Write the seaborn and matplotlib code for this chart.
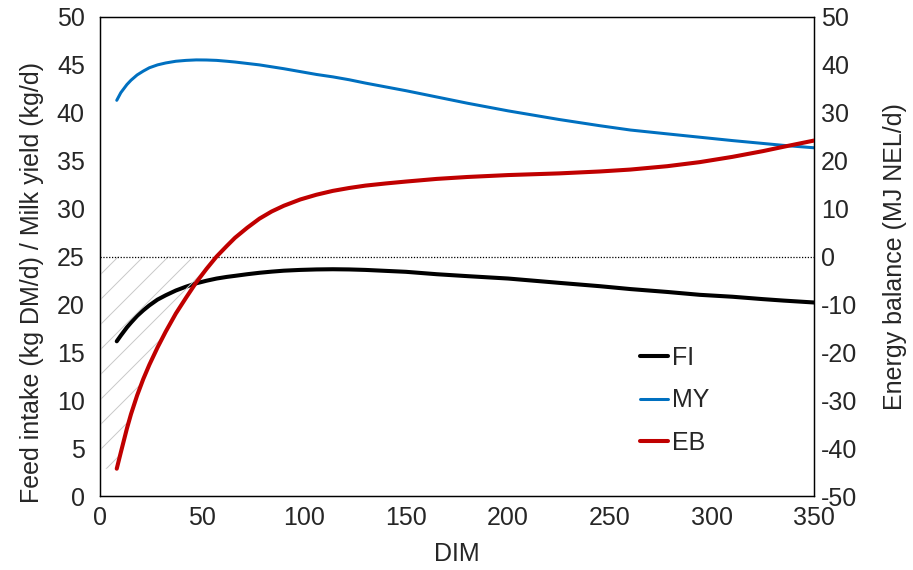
import matplotlib
matplotlib.use("Agg")
import matplotlib.pyplot as plt
import numpy as np
import pandas as pd
import seaborn as sns

# values
dim = [8, 10, 13, 15, 18, 21, 24, 28, 32, 37, 42, 47, 52, 57, 62, 66, 72, 78,
       84, 90, 98, 106, 114, 122, 130, 140, 150, 165, 180, 200, 225, 245, 260,
       278, 294, 310, 325, 335, 350]
fi = [16.15, 16.75, 17.6, 18.1, 18.8, 19.38, 19.9, 20.5, 20.95, 21.45, 21.85,
      22.2, 22.47, 22.7, 22.87, 22.98, 23.15, 23.3, 23.42, 23.52, 23.6, 23.65,
      23.67, 23.65, 23.6, 23.5, 23.4, 23.15, 22.95, 22.7, 22.25, 21.9, 21.6,
      21.3, 21.0, 20.8, 20.55, 20.4, 20.2]
my = [41.3, 42.1, 42.95, 43.4, 43.95, 44.35, 44.7, 45.0, 45.2, 45.38, 45.47,
      45.52, 45.51, 45.47, 45.38, 45.3, 45.15, 45.0, 44.8, 44.6, 44.3, 44.0,
      43.75, 43.45, 43.1, 42.7, 42.3, 41.65, 41.0, 40.2, 39.3, 38.65, 38.2,
      37.8, 37.45, 37.1, 36.8, 36.6, 36.35]
eb = [-44.3, -40.9, -35.9, -32.9, -29.0, -25.6, -22.6, -19.0, -15.7, -11.9,
      -8.6, -5.4, -2.6, 0.0, 2.2, 3.9, 6.0, 7.9, 9.4, 10.6, 11.9, 12.9, 13.7,
      14.3, 14.8, 15.25, 15.65, 16.2, 16.6, 17.0, 17.35, 17.75, 18.15, 18.85,
      19.7, 20.8, 22.0, 22.9, 24.2]

left_ticks = [0, 5, 10, 15, 20, 25, 30, 35, 40, 45, 50]
right_ticks = [-50, -40, -30, -20, -10, 0, 10, 20, 30, 40, 50]
x_ticks = [0, 50, 100, 150, 200, 250, 300, 350]

df = pd.DataFrame({"DIM": dim, "FI": fi, "MY": my, "EB": eb})

sns.set_style("white")
plt.rcParams["font.family"] = ["Liberation Sans", "DejaVu Sans"]
plt.rcParams["axes.unicode_minus"] = False
plt.rcParams["hatch.linewidth"] = 0.45

fs = 12
fig, ax = plt.subplots(figsize=(913 / 150, 570 / 150), dpi=150)
fig.subplots_adjust(left=0.110, right=0.8915, top=0.9702, bottom=0.1298)
ax2 = ax.twinx()

# negative energy balance area (hatched)
neg = df[df["EB"] <= 0]
xs = np.concatenate([[0], neg["DIM"].values])
ys = np.concatenate([[neg["EB"].values[0]], neg["EB"].values])
ax2.fill_between(xs, ys, 0, facecolor="none", edgecolor="#c8c8c8",
                 hatch="//", linewidth=0, zorder=1)
ax2.axhline(0, color="black", lw=0.6, linestyle=(0, (1, 1.3)), zorder=2)

sns.lineplot(data=df, x="DIM", y="FI", ax=ax, color="black", lw=1.95,
             label="FI", legend=False)
sns.lineplot(data=df, x="DIM", y="MY", ax=ax, color="#0070C0", lw=1.45,
             label="MY", legend=False)
sns.lineplot(data=df, x="DIM", y="EB", ax=ax2, color="#C00000", lw=1.95,
             label="EB", legend=False, zorder=3)
for l in ax.get_lines() + ax2.get_lines():
    l.set_solid_capstyle("round")
    l.set_solid_joinstyle("round")

ax.set_xlim(0, 350)
ax.set_ylim(0, 50)
ax2.set_ylim(-50, 50)
ax.set_xticks(x_ticks)
ax.set_yticks(left_ticks)
ax2.set_yticks(right_ticks)

ax.tick_params(axis="y", length=0, pad=7.5, labelsize=fs)
ax.tick_params(axis="x", length=0, pad=5.0, labelsize=fs)
ax2.tick_params(axis="y", length=0, pad=3.5, labelsize=fs)

ax.set_xlabel("DIM", fontsize=fs)
ax.set_ylabel("Feed intake (kg DM/d) / Milk yield (kg/d)", fontsize=fs)
ax2.set_ylabel("Energy balance (MJ NEL/d)", fontsize=fs)
ax.xaxis.set_label_coords(0.5, -0.095)
ax.yaxis.set_label_coords(-0.079, 0.445)
ax2.yaxis.set_label_coords(1.097, 0.5)

for a in (ax, ax2):
    for s in a.spines.values():
        s.set_color("black")
        s.set_linewidth(0.6)

handles = [h for h in ax.get_lines() if h.get_label() in ("FI", "MY")]
handles += [h for h in ax2.get_lines() if h.get_label() == "EB"]
ax2.legend(handles, ["FI", "MY", "EB"], loc="upper left",
           bbox_to_anchor=(0.687, 0.4155), bbox_transform=fig.transFigure,
           frameon=False, fontsize=fs, handlelength=1.15,
           handletextpad=0.15, labelspacing=0.75, borderpad=0)

fig.savefig("out.png", dpi=150)
